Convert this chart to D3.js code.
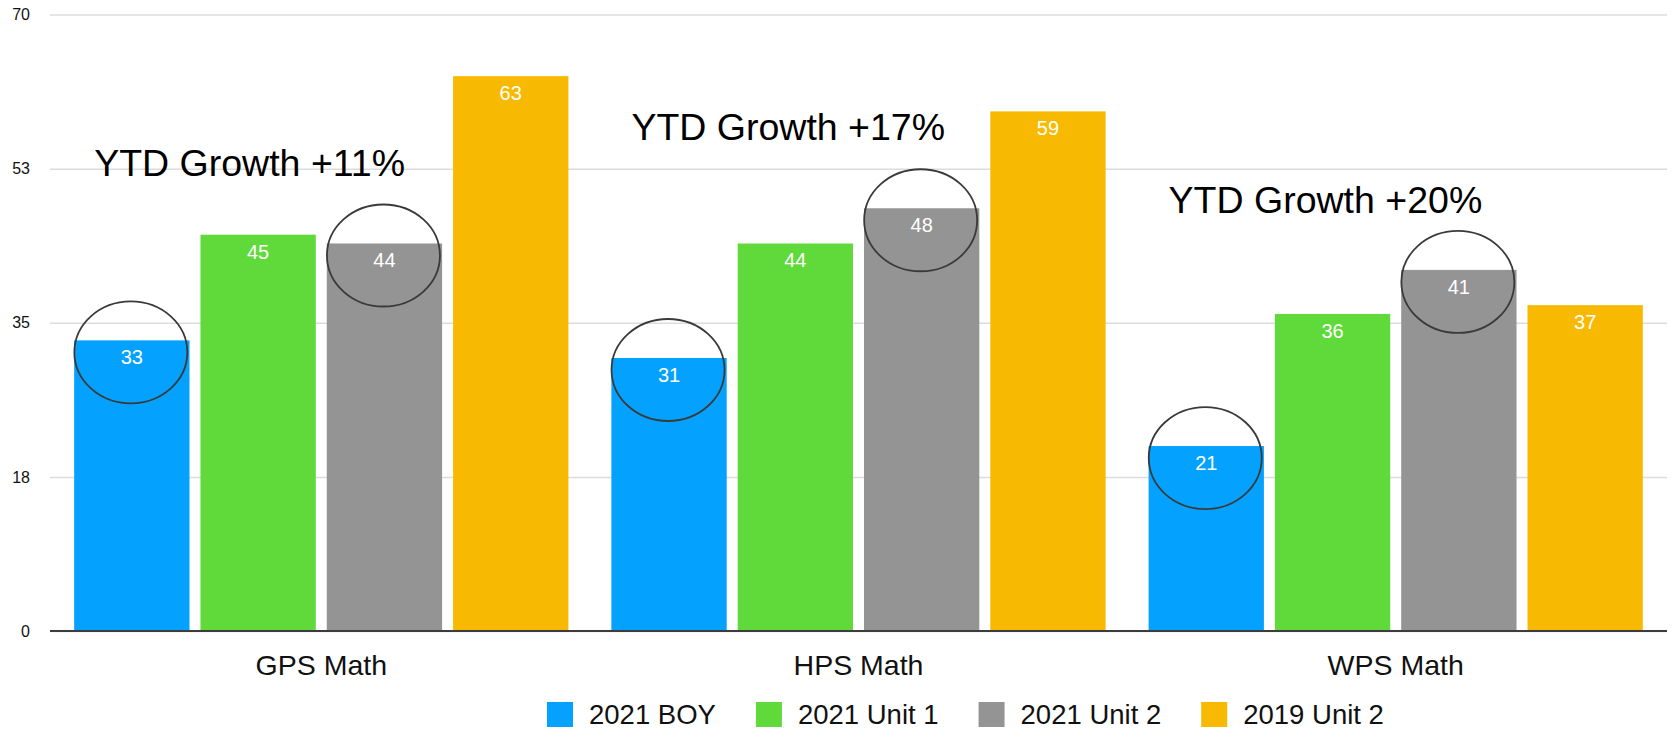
<!DOCTYPE html>
<html>
<head>
<meta charset="utf-8">
<script src="https://cdn.jsdelivr.net/npm/d3@7"></script>
<style>
	html, body { margin: 0; padding: 0; background: #fff; }
	svg { display: block; font-family: "Liberation Sans", Arial, Helvetica, sans-serif; }
</style>
</head>
<body>
<svg id="chart" width="1675" height="730"></svg>
<script>
(function(){
	'use strict';

	// data
	var categories = ["GPS Math", "HPS Math", "WPS Math"];
	var series = ["2021 BOY", "2021 Unit 1", "2021 Unit 2", "2019 Unit 2"];
	var boy2021 = [33, 31, 21];
	var unit1_2021 = [45, 44, 36];
	var unit2_2021 = [44, 48, 41];
	var unit2_2019 = [63, 59, 37];
	var yTicks = [0, 17.5, 35, 52.5, 70];
	var yTickLabels = ["0", "18", "35", "53", "70"];
	var colors = ["#04a2fe", "#60d93a", "#949494", "#f8b902"];

	// annotations: growth text per category (y in value units), circled bars
	var growthLabels = ["YTD Growth +11%", "YTD Growth +17%", "YTD Growth +20%"];
	var growthAt = [51.7, 55.8, 47.5];
	var circled = [["GPS Math", "2021 BOY"], ["GPS Math", "2021 Unit 2"],
		["HPS Math", "2021 BOY"], ["HPS Math", "2021 Unit 2"],
		["WPS Math", "2021 BOY"], ["WPS Math", "2021 Unit 2"]];

	var values = [boy2021, unit1_2021, unit2_2021, unit2_2019];
	var rows = [];
	categories.forEach(function(c, i){
		series.forEach(function(s, j){
			rows.push({cat: c, ser: s, value: values[j][i], color: colors[j]});
		});
	});

	var svg = d3.select("#chart");
	var left = 50, right = 1667, top = 14.5, bottom = 631;

	var x0 = d3.scaleBand().domain(categories).range([left, right])
		.paddingInner(0.08).paddingOuter(0.045);
	var x1 = d3.scaleBand().domain(series).range([0, x0.bandwidth()])
		.paddingInner(0.087);
	var y = d3.scaleLinear().domain([0, 70]).range([bottom, top]);

	// y axis + grid
	var yAxis = d3.axisLeft(y)
		.tickValues(yTicks)
		.tickFormat(function(d, i){ return yTickLabels[i]; })
		.tickSize(-(right - left))
		.tickPadding(20);
	var gy = svg.append("g")
		.attr("transform", "translate(" + left + ",0)")
		.call(yAxis);
	gy.select(".domain").remove();
	gy.selectAll(".tick line")
		.attr("stroke", "#dcdcdc")
		.attr("stroke-width", 1.5);
	gy.selectAll(".tick text")
		.attr("fill", "#111")
		.attr("font-size", "16px")
		.attr("font-family", "'Liberation Sans', Arial, sans-serif");

	// bars
	var bars = svg.append("g").selectAll("g")
		.data(rows)
	.enter().append("g");
	bars.append("rect")
		.attr("x", function(d){ return x0(d.cat) + x1(d.ser); })
		.attr("y", function(d){ return y(d.value); })
		.attr("width", x1.bandwidth())
		.attr("height", function(d){ return y(0) - y(d.value); })
		.attr("fill", function(d){ return d.color; });
	bars.append("text")
		.attr("x", function(d){ return x0(d.cat) + x1(d.ser) + x1.bandwidth() / 2; })
		.attr("y", function(d){ return y(d.value) + 24; })
		.attr("text-anchor", "middle")
		.attr("fill", "#fff")
		.attr("font-size", "20px")
		.text(function(d){ return d.value; });

	// zero line
	svg.append("line")
		.attr("x1", left).attr("x2", right)
		.attr("y1", y(0)).attr("y2", y(0))
		.attr("stroke", "#3c3c3c")
		.attr("stroke-width", 2);

	// category labels
	svg.append("g").selectAll("text")
		.data(categories)
	.enter().append("text")
		.attr("x", function(d){ return x0(d) + x0.bandwidth() / 2; })
		.attr("y", 675)
		.attr("text-anchor", "middle")
		.attr("font-size", "28.5px")
		.attr("fill", "#111")
		.text(function(d){ return d; });

	// circles round bars
	svg.append("g").selectAll("ellipse")
		.data(circled)
	.enter().append("ellipse")
		.attr("cx", function(d){ return x0(d[0]) + x1(d[1]) + x1.bandwidth() / 2 - 1; })
		.attr("cy", function(d){
			var r = rows.find(function(o){ return o.cat === d[0] && o.ser === d[1]; });
			return y(r.value) + 12;
		})
		.attr("rx", 56.5)
		.attr("ry", 51)
		.attr("fill", "none")
		.attr("stroke", "#3a3a3a")
		.attr("stroke-width", 1.8);

	// growth text
	svg.append("g").selectAll("text")
		.data(growthLabels)
	.enter().append("text")
		.attr("x", function(d, i){ return x0(categories[i]) + 20; })
		.attr("y", function(d, i){ return y(growthAt[i]); })
		.attr("font-size", "37.5px")
		.attr("fill", "#000")
		.text(function(d){ return d; });

	// legend (kept just inside the bottom edge)
	var legend = svg.append("g").attr("transform", "translate(547,702)");
	var lx = 0;
	series.forEach(function(s, i){
		var g = legend.append("g").attr("transform", "translate(" + lx + ",0)");
		g.append("rect")
			.attr("width", 26)
			.attr("height", 25)
			.attr("fill", colors[i]);
		var t = g.append("text")
			.attr("x", 42)
			.attr("y", 21.5)
			.attr("font-size", "27.5px")
			.attr("fill", "#111")
			.text(s);
		lx += 42 + t.node().getComputedTextLength() + 40;
	});
}());
</script>
</body>
</html>
